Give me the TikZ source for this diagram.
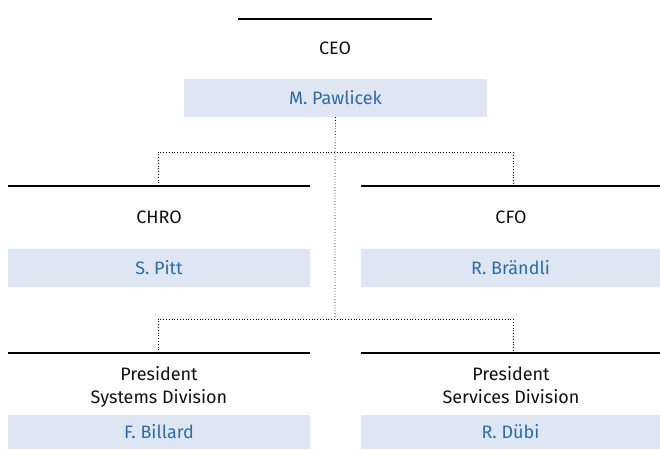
\documentclass[tikz,border=0pt]{standalone}
\usepackage{fontspec}
\setmainfont{Fira Sans}
\definecolor{boxfill}{HTML}{DDE6F2}
\definecolor{nametext}{HTML}{2E6BA8}
\definecolor{roleink}{HTML}{111111}
\tikzset{
  x=1pt,y=-1pt,
  rolebar/.style={line width=2.4pt,black},
  namebox/.style={fill=boxfill,text=nametext,minimum width=302pt,minimum height=38pt,inner sep=0pt,font=\fontsize{18}{20}\selectfont},
  roletext/.style={align=center,text=roleink,font=\fontsize{18}{23}\selectfont,inner sep=0pt},
  link/.style={dotted,line width=0.8pt,black},
}
\begin{document}
\begin{tikzpicture}
\useasboundingbox (0,0) rectangle (660,449);
% CEO
\draw[rolebar] (238,19) coordinate (ceoL) -- (432,19) coordinate (ceoR);
\node[roletext] (ceo) at (335,48) {CEO};
\node[namebox,minimum width=303pt] (pawlicek) at (335.5,98) {M. Pawlicek};
% second row
\draw[rolebar] (8,186) coordinate (chroL) -- (310,186) coordinate (chroR);
\draw[rolebar] (361,186) coordinate (cfoL) -- (660,186) coordinate (cfoR);
\coordinate (chroTop) at (158,186);
\coordinate (cfoTop) at (513,186);
\node[roletext] (chro) at (159,217) {CHRO};
\node[roletext] (cfo) at (511,217) {CFO};
\node[namebox] (pitt) at (159,268) {S. Pitt};
\node[namebox,minimum width=299pt] (braendli) at (510.5,268) {R. Brändli};
% third row
\draw[rolebar] (8,353) coordinate (sysL) -- (310,353) coordinate (sysR);
\draw[rolebar] (361,353) coordinate (serL) -- (660,353) coordinate (serR);
\coordinate (sysTop) at (158,353);
\coordinate (serTop) at (513,353);
\node[roletext,anchor=north] (sys) at (159,366) {President\\Systems Division};
\node[roletext,anchor=north] (ser) at (511,366) {President\\Services Division};
\node[namebox,minimum height=34pt] (billard) at (159,432) {F. Billard};
\node[namebox,minimum width=299pt,minimum height=34pt] (duebi) at (510.5,432) {R. Dübi};
% connectors
\coordinate (hub1) at (335,152);
\coordinate (hub2) at (335,319);
\draw[link] (pawlicek.south) -- (hub1) -- (hub2);
\draw[link] (chroTop) |- (hub1) -| (cfoTop);
\draw[link] (sysTop) |- (hub2) -| (serTop);
\end{tikzpicture}
\end{document}
